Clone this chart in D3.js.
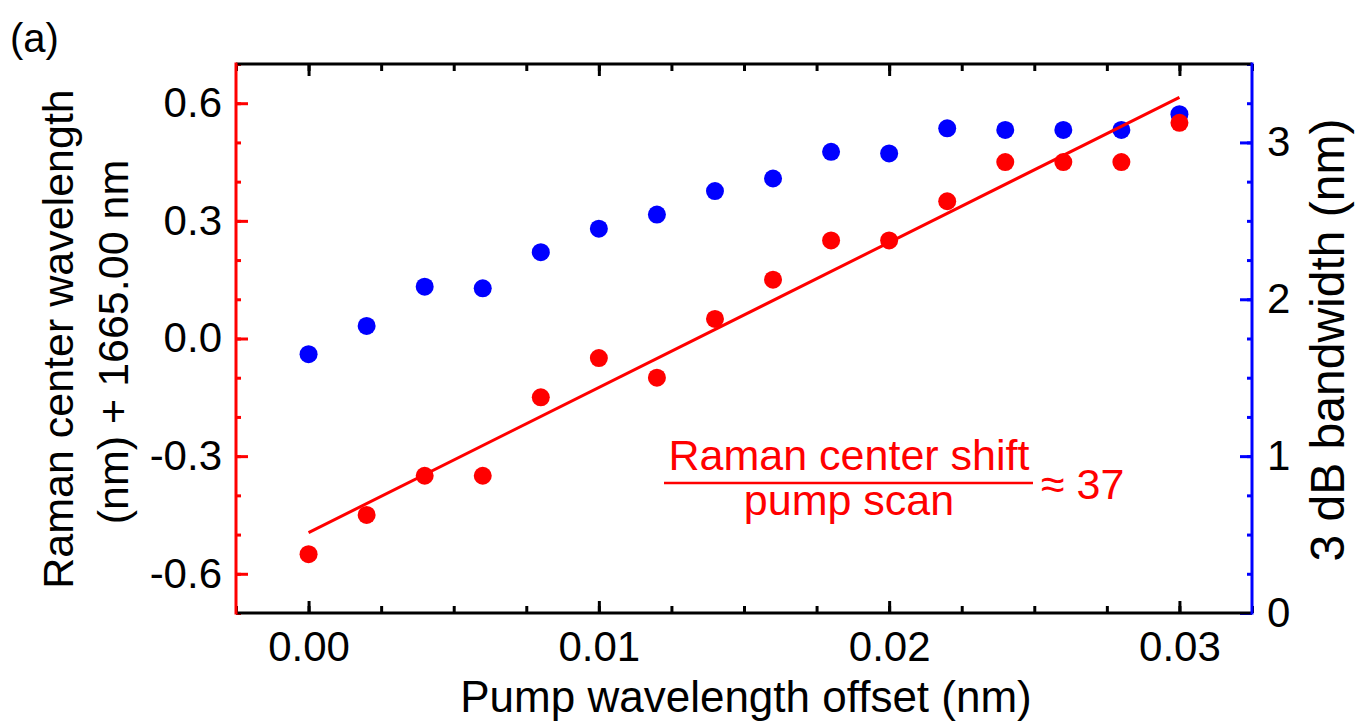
<!DOCTYPE html>
<html>
<head>
<meta charset="utf-8">
<script src="https://cdn.jsdelivr.net/npm/d3@7"></script>
<style>
  html, body { margin: 0; padding: 0; background: #fff; }
  svg { display: block; font-family: "Liberation Sans", Arial, sans-serif; }
</style>
</head>
<body>
<svg id="chart" width="1357" height="728"></svg>
<script>
// Pump wavelength offset (nm)
const pumpOffset = [0, 0.002, 0.004, 0.006, 0.008, 0.010, 0.012, 0.014,
                    0.016, 0.018, 0.020, 0.022, 0.024, 0.026, 0.028, 0.030];
// Raman center wavelength relative to 1665.00 nm
const ramanCenter = [-0.55, -0.45, -0.35, -0.35, -0.15, -0.05, -0.10, 0.05,
                     0.15, 0.25, 0.25, 0.35, 0.45, 0.45, 0.45, 0.55];
// 3 dB bandwidth (nm)
const bandwidth = [1.65, 1.83, 2.08, 2.07, 2.30, 2.45, 2.54, 2.69,
                   2.77, 2.94, 2.93, 3.09, 3.08, 3.08, 3.08, 3.18];
// Linear fit of the Raman center vs pump offset
const fitSlope = 37;
const fitIntercept = -0.495;

const xTicks = [0, 0.01, 0.02, 0.03];
const xMinorTicks = d3.range(-0.0025, 0.0326, 0.0025);
const yLeftTicks = [-0.6, -0.3, 0.0, 0.3, 0.6];
const yLeftMinor = d3.range(-0.7, 0.71, 0.1);
const yRightTicks = [0, 1, 2, 3];
const yRightMinor = d3.range(0, 3.51, 0.25);

const RED = "#ff0000", BLUE = "#0000ff", BLACK = "#000";
const W = 1357, H = 728;
const m = { top: 64, right: 105, bottom: 115, left: 236 };
const iw = W - m.left - m.right, ih = H - m.top - m.bottom;

const svg = d3.select("#chart");
const g = svg.append("g").attr("transform", `translate(${m.left},${m.top})`);

const x = d3.scaleLinear().domain([-0.0025, 0.0325]).range([0, iw]);
const yL = d3.scaleLinear().domain([-0.7, 0.7]).range([ih, 0]);
const yR = d3.scaleLinear().domain([0, 3.5]).range([ih, 0]);

const MAJ = 12, MIN = 7, FS = 42, TFS = 44;
// plain hyphen for negative numbers
const fmt1 = v => d3.format(".1f")(v).replace("\u2212", "-");

function styleAxis(sel, color) {
  sel.select(".domain").remove();
  sel.selectAll(".tick line").attr("stroke", color).attr("stroke-width", 3);
  sel.selectAll(".tick text").attr("fill", BLACK).attr("font-size", FS);
}

// minor ticks (no labels)
g.append("g").attr("transform", `translate(0,${ih})`)
  .call(d3.axisBottom(x).tickValues(xMinorTicks).tickSize(-MIN).tickFormat(""))
  .call(s => styleAxis(s, BLACK));
g.append("g")
  .call(d3.axisTop(x).tickValues(xMinorTicks).tickSize(-MIN).tickFormat(""))
  .call(s => styleAxis(s, BLACK));
g.append("g")
  .call(d3.axisLeft(yL).tickValues(yLeftMinor).tickSize(-MIN + 2).tickFormat(""))
  .call(s => styleAxis(s, RED));
g.append("g").attr("transform", `translate(${iw},0)`)
  .call(d3.axisRight(yR).tickValues(yRightMinor).tickSize(-MIN + 2).tickFormat(""))
  .call(s => styleAxis(s, BLUE));

// major ticks with labels
g.append("g").attr("transform", `translate(0,${ih})`)
  .call(d3.axisBottom(x).tickValues(xTicks).tickSize(-MAJ).tickPadding(18)
        .tickFormat(d3.format(".2f")))
  .call(s => styleAxis(s, BLACK));
g.append("g")
  .call(d3.axisTop(x).tickValues(xTicks).tickSize(-MAJ).tickFormat(""))
  .call(s => styleAxis(s, BLACK));
g.append("g")
  .call(d3.axisLeft(yL).tickValues(yLeftTicks).tickSize(-MAJ).tickPadding(14)
        .tickFormat(fmt1))
  .call(s => styleAxis(s, RED));
g.append("g").attr("transform", `translate(${iw},0)`)
  .call(d3.axisRight(yR).tickValues(yRightTicks).tickSize(-MAJ).tickPadding(15)
        .tickFormat(d3.format("d")))
  .call(s => styleAxis(s, BLUE));

// frame: black top/bottom, red left, blue right
g.append("line").attr("x1", 0).attr("x2", iw).attr("y1", 0).attr("y2", 0)
  .attr("stroke", BLACK).attr("stroke-width", 3);
g.append("line").attr("x1", 0).attr("x2", iw).attr("y1", ih).attr("y2", ih)
  .attr("stroke", BLACK).attr("stroke-width", 3);
g.append("line").attr("x1", 0).attr("x2", 0).attr("y1", -1.5).attr("y2", ih + 1.5)
  .attr("stroke", RED).attr("stroke-width", 3);
g.append("line").attr("x1", iw).attr("x2", iw).attr("y1", -1.5).attr("y2", ih + 1.5)
  .attr("stroke", BLUE).attr("stroke-width", 3);

// bandwidth points (right axis)
g.append("g").selectAll("circle").data(pumpOffset).join("circle")
  .attr("cx", (d) => x(d))
  .attr("cy", (d, i) => yR(bandwidth[i]))
  .attr("r", 9).attr("fill", BLUE);

// Raman center points (left axis)
g.append("g").selectAll("circle").data(pumpOffset).join("circle")
  .attr("cx", (d) => x(d))
  .attr("cy", (d, i) => yL(ramanCenter[i]))
  .attr("r", 9).attr("fill", RED);

// linear fit line
const fitX = d3.extent(pumpOffset);
g.append("path")
  .datum(fitX)
  .attr("fill", "none").attr("stroke", RED).attr("stroke-width", 3)
  .attr("d", d3.line().x(d => x(d)).y(d => yL(fitIntercept + fitSlope * d)));

// slope annotation
const ann = g.append("g").attr("fill", RED).attr("font-size", 43);
const annCx = 849 - m.left;
ann.append("text").attr("x", annCx).attr("y", 470 - m.top)
  .attr("text-anchor", "middle").text("Raman center shift");
ann.append("line").attr("x1", 664 - m.left).attr("x2", 1033 - m.left)
  .attr("y1", 483 - m.top).attr("y2", 483 - m.top)
  .attr("stroke", RED).attr("stroke-width", 2.5);
ann.append("text").attr("x", annCx).attr("y", 515 - m.top)
  .attr("text-anchor", "middle").text("pump scan");
ann.append("text").attr("x", 1041 - m.left).attr("y", 499 - m.top)
  .text("\u2248 " + fitSlope);

// axis titles
svg.append("text").attr("x", m.left + iw / 2 + 2).attr("y", 712)
  .attr("text-anchor", "middle").attr("font-size", TFS)
  .text("Pump wavelength offset (nm)");

const lt = svg.append("g").attr("font-size", 43).attr("text-anchor", "middle");
lt.append("text").attr("transform", "translate(73,339) rotate(-90)")
  .text("Raman center wavelength");
lt.append("text").attr("transform", "translate(128,342) rotate(-90)")
  .text("(nm) + 1665.00 nm");

svg.append("text").attr("transform", "translate(1344,340) rotate(-90)")
  .attr("text-anchor", "middle").attr("font-size", 48)
  .text("3 dB bandwidth (nm)");

svg.append("text").attr("x", 10).attr("y", 52).attr("font-size", 40).text("(a)");
</script>
</body>
</html>
